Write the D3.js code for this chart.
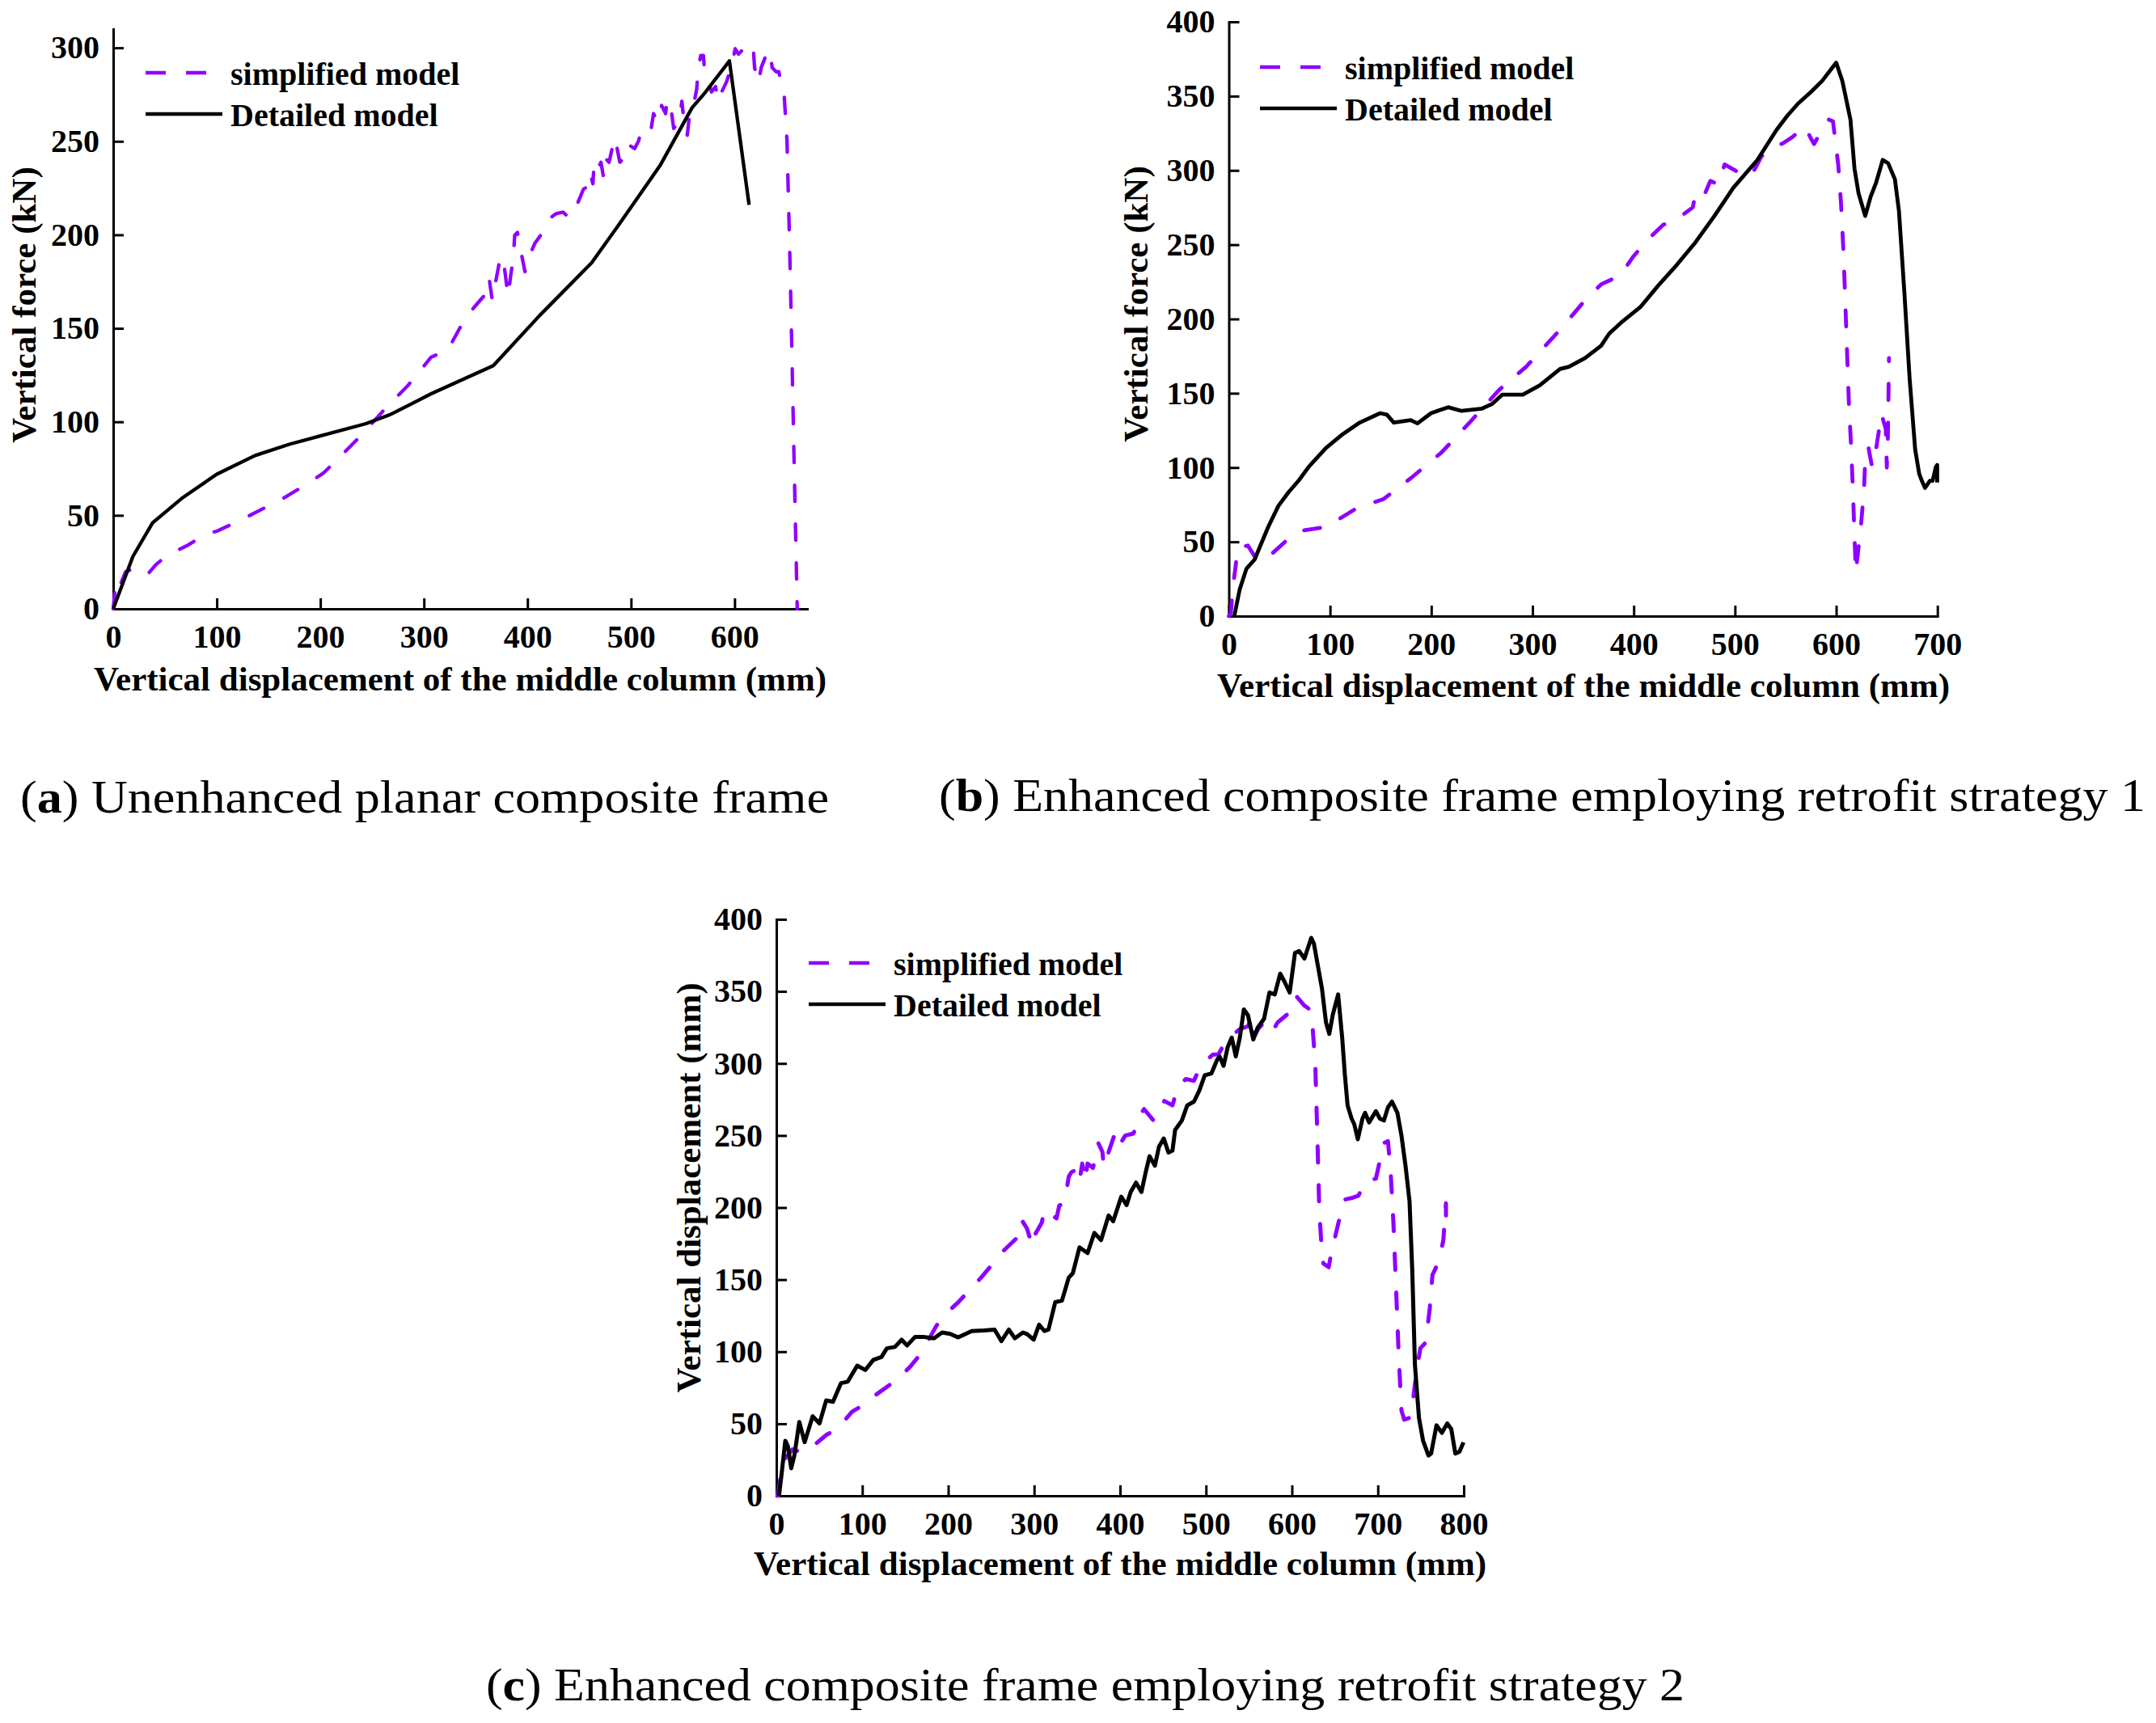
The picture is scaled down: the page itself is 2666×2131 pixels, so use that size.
<!DOCTYPE html>
<html>
<head>
<meta charset="utf-8">
<script src="https://cdn.jsdelivr.net/npm/d3@7"></script>
<style>
  html, body { margin: 0; padding: 0; background: #fff; }
  svg text { font-family: 'Liberation Serif', 'Times New Roman', serif; fill: #000; }
</style>
</head>
<body>
<div id="chart"></div>
<script>
/* Simplified vs detailed model curves, three retrofit cases. */

// ---- data: [displacement (mm), value] -------------------------------------
const simplifiedA = [[0,0],[1,6],[2.7,15.6],[6.6,12.7],[12,19.9],[24.7,22.4],[34,18.9],[41,23.5],[52,28.6],
  [71,33.7],[90,40.2],[100,41.5],[120,46.6],[142,52.8],[164,59],[186,66.4],[203,72.6],[219,81.3],[241,93.7],
  [263,107.3],[285,119.7],[307,134.6],[323,138.3],[334,149.5],[343.4,157.9],[351.2,163],[360.3,168.8],[363,176.7],
  [366,165],[369,174],[372.6,184.6],[376.4,188.5],[381.2,167.3],[383.8,178.1],[386.4,188.3],[387.7,199.8],
  [390.3,201.3],[394.2,189.7],[397.6,180.3],[402,189],[407.2,195.5],[413.7,200.5],[418.9,207.1],[424.1,209.9],
  [428,211.4],[434.5,212.1],[439.7,209.2],[443.6,214.3],[447.5,215.7],[451.4,220.8],[454,224.4],[458,225.8],
  [460.5,233],[463.2,227.3],[464.5,239.6],[468.4,236],[471,238.8],[473.6,230.2],[476.2,240.3],[478.8,238.8],
  [484,251.8],[486.6,246.1],[489.2,238.8],[491.8,240.3],[494.4,248.2],[499.6,247.5],[503.5,246.1],[507.4,250.4],
  [510,256.2],[515.2,256.9],[519.1,255.5],[521.7,264.8],[525.6,260.5],[529.5,269.2],[533.4,264.8],[534.7,272.1],
  [538.6,267.7],[541.2,256.9],[546.5,260.5],[549.1,271.4],[551.7,257.6],[554.3,253.3],[556.9,266.3],[560.8,270.6],
  [563.4,277.9],[564.7,288],[567.3,295.9],[569.9,295.9],[571.2,286.5],[573.8,283.6],[577.7,276.4],[581.6,279.3],
  [584.2,271.4],[588.1,277.1],[592,281.5],[594.6,285.8],[598.5,293.7],[600.6,299.5],[603.7,296.6],[607.6,298.8],
  [612.8,302.4],[618,300.3],[619.3,289.4],[623.2,281.5],[625.7,289.4],[629.8,295.2],[632.3,298.8],[634.9,295.2],
  [636.3,289.4],[640.2,287.2],[642.8,287.2],[644.8,280.7],[648,273.5],[650.6,250.4],[651.9,221.5],[653.2,192.6],
  [654.5,159.4],[657.5,77.6],[660.5,0]];
const detailedA = [[0,0],[19,28],[38,46],[66,59],[100,72],[137,82],[170,88],[200,92.5],[244,99],[268,104],
  [307,115],[367,130],[412,157],[462,185],[489,206],[528,237],[559,268],[570,275],[595,293],[614,216]];

const simplifiedB = [[0,0],[2,2.2],[4,19.4],[6.7,33.4],[8.7,45.9],[18.8,47.5],[28.8,36.6],[38.9,39.7],[59,52.2],
  [72.4,57.5],[95.9,60],[126.1,72.5],[152.9,78.8],[179.7,92.8],[209.9,110],[240,131.9],[266.9,152.2],[293.7,167.8],
  [310.4,180.3],[327.2,192.8],[335.9,199.7],[351.9,212.6],[367.8,223.3],[386.5,229.2],[399.8,242.2],[413.1,252.8],
  [429.1,263.4],[442.4,266.9],[458.4,275.2],[461,284.6],[469,282.3],[475.7,292.9],[483.6,290.5],[489.8,304],
  [506.3,297.6],[512,296],[517,297.6],[526.2,309.4],[532.9,313],[548.9,318.9],[556.8,322.4],[566.2,328.3],
  [568.8,329.5],[578.1,317.7],[584.8,326],[592.8,334.2],[596.8,333.1],[602.1,303.5],[604.8,277.6],[607.4,242.2],
  [610.1,190.2],[612.7,140.6],[614.9,112.3],[616.7,81.6],[618.1,53.3],[619.4,29.7],[622.1,46.2],[624.7,62.7],
  [627.4,84],[628.7,105.2],[631.9,113.5],[635.4,100.5],[639.4,112.3],[644.7,136],[649,126],[650,100],[651,118],
  [652.2,173.7]];
const detailedB = [[5.4,0],[10.7,17.8],[17.4,31.9],[25.5,38.1],[32.2,49.1],[38.9,60],[48.9,74.1],[59,83.4],
  [69.1,91.3],[79.1,100.6],[95.9,113.1],[112.6,122.5],[129.4,130.3],[149.5,136.6],[156.2,135.6],[162.9,130.3],
  [179.7,131.9],[186.4,129.7],[199.8,136.6],[216.6,140.6],[230,138.1],[250.1,139.7],[260.2,142.8],[270.2,149.1],
  [290.4,149.1],[307.1,155.3],[327.2,166.3],[335.9,167.8],[351.9,173.7],[367.8,182],[375.8,190.2],[389.1,198.5],
  [406.4,207.9],[423.7,222.1],[442.4,236.3],[461,251.6],[479.7,269.3],[498.3,288.2],[522.2,307.1],[540.9,327.1],
  [551.5,336.6],[562.2,344.9],[575.5,353.1],[586.1,360.2],[600,372.5],[606.1,360.2],[614.1,334.2],[618.1,301.2],
  [622.1,284.6],[628.7,269.3],[634,282.3],[639.4,291.7],[646,307.1],[651.4,304.7],[658,294.1],[662,272.8],
  [667.3,218.5],[672.6,159.5],[678,112.3],[682,95.8],[684.6,91.1],[687.8,86.3],[692.6,91.1],[695.3,91.1],
  [698.5,100.5],[699.8,101.7],[699.8,89.9]];

const simplifiedC = [[1.6,0],[4.7,12.1],[7.8,24.1],[18.8,32.2],[29.8,30.2],[42.3,34.2],[58,42.2],[70.6,46.2],
  [87.8,58.2],[102,63.2],[116.1,70.2],[139.6,80.3],[155.3,89.3],[167.8,98.3],[186.6,118.3],[199.1,127.3],
  [211.7,134.3],[227.4,144.4],[238.3,151.4],[250.9,160.4],[265,170.4],[279.1,178.4],[285.4,191.5],[291.7,185.4],
  [297.9,173.4],[301.1,181.4],[308.9,189.5],[312,198.5],[321.5,194.5],[326.1,192.5],[329.3,201.5],[334,202.5],
  [337.1,209.5],[340.3,221.5],[343.4,224.5],[349.7,226.5],[352.8,218.5],[356,230.5],[359.1,218.5],[362.2,230.5],
  [368.5,227.5],[374.8,244.6],[379.5,238.6],[381,228.5],[387.3,239.6],[393.6,250.6],[398.2,242.2],[406.1,250],
  [415.5,251.3],[424.9,265.7],[428,268.3],[439,260.4],[451.5,274],[461,270.9],[467.2,283.9],[476.6,289.2],
  [486,287.9],[490.7,294.4],[498.6,300.9],[508,306.2],[514.3,306.2],[520.5,312.7],[530,319.2],[537.8,323.1],
  [542.5,324.4],[548.8,325.8],[553.5,332.3],[556.6,319.2],[561.3,324.4],[567.6,328.4],[577,321.8],[583.3,328.4],
  [599,336.2],[605.2,346.6],[614.6,340.1],[620.9,337.5],[624,325.8],[627.2,299.6],[628.7,268.3],[630.3,234.3],
  [631.9,197.8],[634.1,176.9],[636.6,161.2],[642.8,158.6],[646,169],[655.4,192.5],[661.7,205.6],[671.1,206.9],
  [677.3,208.2],[686.7,218.7],[697.7,220],[704,236.9],[707.1,244.8],[711.8,246.1],[715,223.9],[718.1,189.9],
  [721.3,142.9],[724.4,95.8],[727.5,59.3],[730.7,52.8],[736.9,54.1],[740.1,61.9],[743.2,77.6],[746.3,90.7],
  [749.5,102.4],[755.7,106.3],[760.4,129.8],[763.6,153.3],[769.9,161.2],[773,169],[776.2,176.9],[777.7,189.9],
  [779.3,203],[779.3,180]];
const detailedC = [[3.1,0],[6.3,16.1],[10.4,38.2],[13.5,34.2],[17.3,19.1],[21,28.1],[26.7,51.2],[32.9,37.2],
  [42.3,55.2],[50.2,50.2],[58,66.2],[65.9,65.2],[75.3,78.2],[83.1,79.2],[94.1,90.3],[103.5,87.3],[112.9,94.3],
  [122.3,96.3],[128.6,102.3],[138,103.3],[145.8,108.3],[152.1,104.3],[161.5,110.3],[170.9,110.3],[183.5,109.3],
  [192.9,113.3],[202.3,112.3],[211.7,109.9],[227.4,114.3],[241.5,114.7],[254,115.3],[261.9,107.3],[270.6,115.3],
  [277.5,109.3],[287,113.3],[291.7,112.3],[299.5,108.3],[305.8,118.7],[312,114.3],[316.7,115.3],[324.6,134.4],
  [332.4,135.4],[340.3,151.4],[345,154.4],[352.8,172.4],[362.2,168.4],[370.1,182.4],[377.9,177.4],[386.7,194.5],
  [392,190.5],[401.4,207.5],[407.6,201.7],[412.4,210.8],[418.6,217.3],[424.9,210.8],[429.6,223.9],[434.3,235.6],
  [440.6,229.1],[445.3,242.2],[450.9,247.9],[456.3,238.2],[461,239.5],[464.1,253.9],[471.9,260.4],[478.2,270.9],
  [486,273.5],[492.3,281.3],[498.6,291.8],[506.4,293.1],[512.7,302.2],[515.8,304.9],[520.5,298.3],[525.3,311.4],
  [530,317.9],[534.7,304.9],[539.4,317.9],[544.1,337.5],[548.8,333.6],[555.1,316.6],[559.8,324.4],[567.6,331],
  [573.9,349.2],[580.1,347.9],[586.4,362.3],[591.1,357.1],[597.4,349.2],[603.6,376.7],[608.4,378],[614.6,372.8],
  [622.5,387.1],[625.6,383.2],[630.3,367.5],[635,351.9],[639.7,328.4],[643.5,320.5],[647.5,333.6],[653.8,347.9],
  [658.5,317.9],[661.7,291.8],[664.8,270.9],[669.5,261.7],[672.6,257.8],[676.7,247.4],[682.1,261.7],[685.2,265.7],
  [689.9,259.1],[697.7,266.9],[702.4,261.7],[707.1,260.4],[711.8,269.6],[716.5,273.5],[722.8,265.7],[727.5,250],
  [732.2,229.1],[736.9,204.3],[740.1,156],[743.2,90.7],[747.9,54.1],[752.6,38.4],[758.9,28],[762,29.3],
  [768.3,48.9],[774.6,43.7],[780.8,50.2],[785.5,46.3],[790.2,29.3],[795,30.6],[799.7,37.1]];

// ---- ticks and labels -------------------------------------------------------
const xTicksA = [0, 100, 200, 300, 400, 500, 600];
const yTicksA = [0, 50, 100, 150, 200, 250, 300];
const xTicksB = [0, 100, 200, 300, 400, 500, 600, 700];
const yTicksB = [0, 50, 100, 150, 200, 250, 300, 350, 400];
const xTicksC = [0, 100, 200, 300, 400, 500, 600, 700, 800];
const yTicksC = [0, 50, 100, 150, 200, 250, 300, 350, 400];
const seriesNames = ["simplified model", "Detailed model"];
const xTitle = "Vertical displacement of the middle column (mm)";
const yTitles = ["Vertical force (kN)", "Vertical force (kN)", "Vertical displacement (mm)"];
const captionTags = ["a", "b", "c"];
const captionTexts = [" Unenhanced planar composite frame",
  " Enhanced composite frame employing retrofit strategy 1",
  " Enhanced composite frame employing retrofit strategy 2"];

// ---- layout -----------------------------------------------------------------
const W = 2666, H = 2131;
const PURPLE = "#8f00ff";

const panels = [
  { sim: simplifiedA, det: detailedA, xTicks: xTicksA, yTicks: yTicksA,
    xDom: [0, 670], yDom: [0, 310], xr: [140, 998], yr: [753, 36], lw: 4.3,
    leg: { x: 180, y: 90 }, xt: { x: 569, y: 854 }, yt: { x: 44, y: 377 },
    cap: { x: 25, y: 1005, len: 1000 } },
  { sim: simplifiedB, det: detailedB, xTicks: xTicksB, yTicks: yTicksB,
    xDom: [0, 700], yDom: [0, 400], xr: [1519.5, 2395.7], yr: [762, 27], lw: 4.8,
    leg: { x: 1558, y: 83 }, xt: { x: 1958, y: 862 }, yt: { x: 1419, y: 376 },
    cap: { x: 1161, y: 1003, len: 1492 } },
  { sim: simplifiedC, det: detailedC, xTicks: xTicksC, yTicks: yTicksC,
    xDom: [0, 800], yDom: [0, 400], xr: [960, 1810], yr: [1850, 1137], lw: 5,
    leg: { x: 1000, y: 1191 }, xt: { x: 1385, y: 1948 }, yt: { x: 866, y: 1469 },
    cap: { x: 601, y: 2103, len: 1482 } },
];

const svg = d3.select("#chart").append("svg")
  .attr("width", W).attr("height", H).attr("viewBox", `0 0 ${W} ${H}`);

function styleAxis(g) {
  g.select(".domain").attr("stroke", "#000").attr("stroke-width", 3).attr("stroke-linecap", "square");
  g.selectAll(".tick line").attr("stroke", "#000").attr("stroke-width", 3);
  g.selectAll(".tick text").attr("fill", "#000").attr("font-size", 40).attr("font-weight", 700)
    .attr("font-family", "'Liberation Serif', 'Times New Roman', serif");
}

panels.forEach((p, i) => {
  const x = d3.scaleLinear().domain(p.xDom).range(p.xr);
  const y = d3.scaleLinear().domain(p.yDom).range(p.yr);
  const g = svg.append("g");

  // axes (ticks point into the plot)
  g.append("g").attr("transform", `translate(0,${p.yr[0]})`)
    .call(d3.axisBottom(x).tickValues(p.xTicks).tickFormat(d3.format("d"))
      .tickSizeInner(-13).tickSizeOuter(0).tickPadding(20))
    .call(styleAxis);
  g.append("g").attr("transform", `translate(${p.xr[0]},0)`)
    .call(d3.axisLeft(y).tickValues(p.yTicks).tickFormat(d3.format("d"))
      .tickSizeInner(-13).tickSizeOuter(0).tickPadding(17))
    .call(styleAxis);

  // curves
  const line = d3.line().x(d => x(d[0])).y(d => y(d[1]));
  g.append("path").datum(p.sim).attr("d", line).attr("fill", "none")
    .attr("stroke", PURPLE).attr("stroke-width", p.lw)
    .attr("stroke-dasharray", "20,28").attr("stroke-linecap", "round").attr("stroke-linejoin", "round");
  g.append("path").datum(p.det).attr("d", line).attr("fill", "none")
    .attr("stroke", "#000").attr("stroke-width", p.lw).attr("stroke-linejoin", "round");

  // legend
  g.append("line").attr("x1", p.leg.x).attr("x2", p.leg.x + 75)
    .attr("y1", p.leg.y).attr("y2", p.leg.y)
    .attr("stroke", PURPLE).attr("stroke-width", 4.5).attr("stroke-dasharray", "25,25");
  g.append("line").attr("x1", p.leg.x).attr("x2", p.leg.x + 95)
    .attr("y1", p.leg.y + 51).attr("y2", p.leg.y + 51)
    .attr("stroke", "#000").attr("stroke-width", 4.5);
  seriesNames.forEach((s, k) => {
    g.append("text").attr("x", p.leg.x + 105).attr("y", p.leg.y + 15 + k * 51)
      .attr("font-size", 40).attr("font-weight", 700).text(s);
  });

  // axis titles
  g.append("text").attr("x", p.xt.x).attr("y", p.xt.y).attr("text-anchor", "middle")
    .attr("font-size", 43).attr("font-weight", 700).text(xTitle);
  g.append("text").attr("transform", `translate(${p.yt.x},${p.yt.y}) rotate(-90)`)
    .attr("text-anchor", "middle").attr("font-size", 43).attr("font-weight", 700).text(yTitles[i]);

  // caption
  const cap = g.append("text").attr("x", p.cap.x).attr("y", p.cap.y).attr("font-size", 56)
    .attr("textLength", p.cap.len).attr("lengthAdjust", "spacingAndGlyphs");
  cap.append("tspan").text("(");
  cap.append("tspan").attr("font-weight", 700).text(captionTags[i]);
  cap.append("tspan").text(")" + captionTexts[i]);
});
</script>
</body>
</html>
